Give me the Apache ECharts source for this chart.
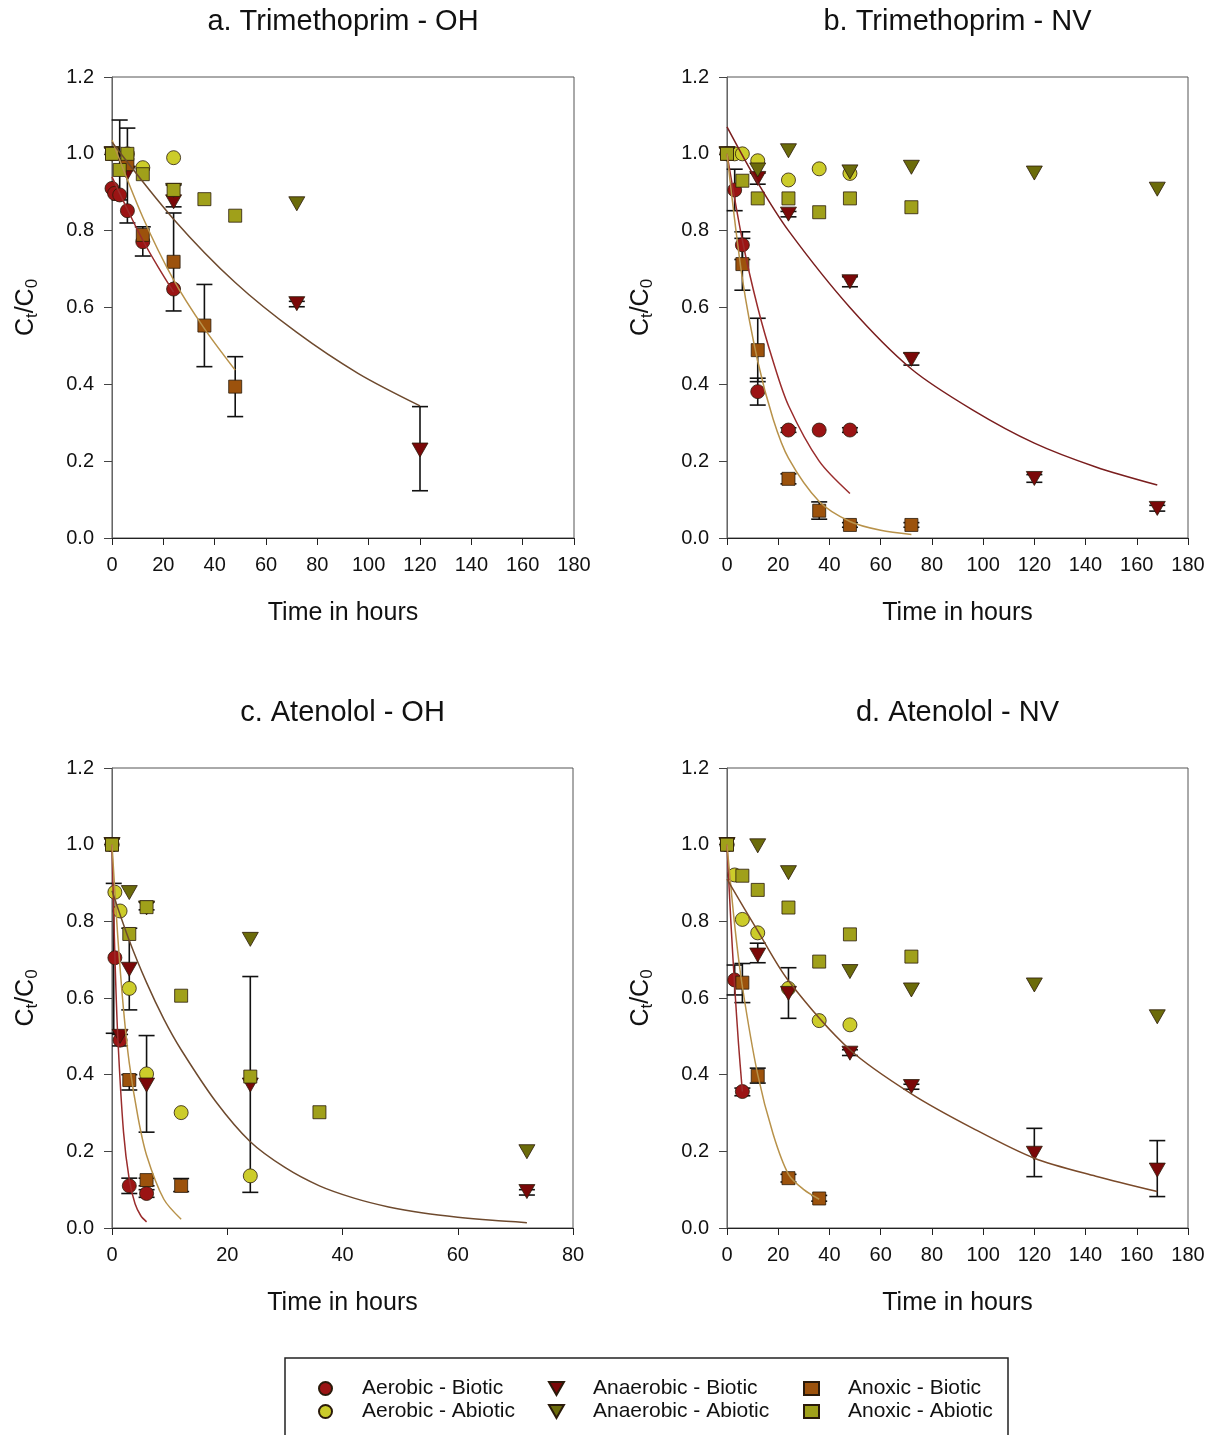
<!DOCTYPE html>
<html><head><meta charset="utf-8">
<script src="https://cdn.jsdelivr.net/npm/echarts@6/dist/echarts.min.js"></script>
<style>html,body{margin:0;padding:0;background:#fff}#c{width:1215px;height:1435px}</style>
</head><body><div id="c"></div>
<script>
// ---------- data ----------
const titles = ['a. Trimethoprim - OH','b. Trimethoprim - NV','c. Atenolol - OH','d. Atenolol - NV'];
const xMaxes = [180,180,80,180];
const yTicks = ['0.0','0.2','0.4','0.6','0.8','1.0','1.2'];
const seriesNames = ['Aerobic - Biotic','Aerobic - Abiotic','Anaerobic - Biotic','Anaerobic - Abiotic','Anoxic - Biotic','Anoxic - Abiotic'];

// panel a
const aAerB = [[0,0.91],[1,0.897],[3,0.893],[6,0.852],[12,0.771],[24,0.648]];
const aAerA = [[0,1.0],[6,1.0],[12,0.964],[24,0.99]];
const aAnaB = [[0,1.0],[6,0.95],[24,0.875],[72,0.61],[120,0.229]];
const aAnaA = [[0,1.0],[24,0.905],[72,0.87]];
const aAnoB = [[0,1.0],[6,0.973],[12,0.789],[24,0.719],[36,0.553],[48,0.394]];
const aAnoA = [[0,1.0],[3,0.958],[6,1.0],[12,0.947],[24,0.906],[36,0.882],[48,0.839]];
const aErr = [[3,0.88,1.088],[6,0.82,1.067],[12,0.734,0.81],[24,0.591,0.846],[24,0.862,0.919],[36,0.446,0.66],[48,0.316,0.472],[72,0.602,0.616],[120,0.123,0.342]];
const aFitAer = [[0,0.94],[6,0.855],[12,0.775],[18,0.705],[24,0.64]];
const aFitAno = [[0,1.036],[12,0.835],[24,0.672],[36,0.545],[48,0.437]];
const aFitAna = [[0,1.03],[24,0.83],[48,0.665],[72,0.535],[96,0.428],[120,0.344]];

// panel b
const bAerB = [[0,1.0],[3,0.906],[6,0.763],[12,0.381],[24,0.281],[36,0.281],[48,0.281]];
const bAerA = [[0,1.0],[3,1.0],[6,1.0],[12,0.982],[24,0.932],[36,0.961],[48,0.949]];
const bAnaB = [[0,1.0],[12,0.936],[24,0.843],[48,0.667],[72,0.465],[120,0.155],[168,0.077]];
const bAnaA = [[0,1.0],[12,0.958],[24,1.008],[48,0.953],[72,0.965],[120,0.95],[168,0.908]];
const bAnoB = [[0,1.0],[6,0.713],[12,0.489],[24,0.154],[36,0.071],[48,0.034],[72,0.034]];
const bAnoA = [[0,1.0],[6,0.93],[12,0.884],[24,0.884],[36,0.848],[48,0.884],[72,0.861]];
const bErr = [[3,0.852,0.96],[6,0.725,0.797],[6,0.645,0.78],[12,0.407,0.572],[12,0.346,0.416],[12,0.921,0.95],[24,0.836,0.85],[48,0.654,0.68],[24,0.141,0.167],[36,0.049,0.094],[48,0.028,0.04],[72,0.028,0.04],[72,0.45,0.481],[120,0.145,0.165],[168,0.07,0.085],[24,0.275,0.287],[48,0.275,0.287]];
const bFitAer = [[0,1.0],[6,0.775],[12,0.6],[18,0.46],[24,0.345],[36,0.2],[48,0.116]];
const bFitAno = [[0,1.0],[6,0.675],[12,0.46],[18,0.31],[24,0.208],[36,0.095],[48,0.043],[60,0.02],[72,0.009]];
const bFitAna = [[0,1.07],[12,0.925],[24,0.8],[48,0.6],[72,0.44],[96,0.333],[120,0.247],[144,0.185],[168,0.138]];

// panel c
const cAerB = [[0,1.0],[0.5,0.705],[1.4,0.49],[3,0.11],[6,0.09]];
const cAerA = [[0,1.0],[0.5,0.876],[1.4,0.827],[3,0.625],[6,0.402],[12,0.301],[24,0.136]];
const cAnaB = [[0,1.0],[1.4,0.5],[3,0.675],[6,0.373],[24,0.373],[72,0.095]];
const cAnaA = [[0,1.0],[3,0.875],[6,0.835],[24,0.753],[72,0.199]];
const cAnoB = [[0,1.0],[3,0.386],[6,0.125],[12,0.11]];
const cAnoA = [[0,1.0],[3,0.767],[6,0.837],[12,0.606],[24,0.395],[36,0.302]];
const cErr = [[0.3,0.508,0.899],[1.4,0.475,0.505],[3,0.569,0.782],[3,0.36,0.4],[3,0.09,0.13],[6,0.25,0.502],[6,0.11,0.13],[6,0.08,0.1],[6,0.83,0.85],[12,0.095,0.129],[24,0.093,0.656],[72,0.086,0.1]];
const cFitAer = [[0,1.0],[0.5,0.71],[1,0.5],[2,0.25],[3,0.126],[4,0.063],[5,0.032],[6,0.016]];
const cFitAno = [[0,1.0],[1,0.76],[2,0.57],[3,0.43],[4.5,0.29],[6,0.19],[9,0.075],[12,0.023]];
const cFitAna = [[0,0.88],[3,0.75],[6,0.64],[9,0.545],[12,0.465],[18,0.33],[24,0.225],[30,0.158],[36,0.11],[42,0.078],[48,0.055],[54,0.039],[60,0.028],[66,0.02],[72,0.014]];

// panel d
const dAerB = [[0,1.0],[3,0.647],[6,0.356]];
const dAerA = [[0,1.0],[3,0.921],[6,0.805],[12,0.77],[24,0.625],[36,0.541],[48,0.53]];
const dAnaB = [[0,1.0],[12,0.712],[24,0.612],[48,0.456],[72,0.369],[120,0.195],[168,0.151]];
const dAnaA = [[0,1.0],[12,0.997],[24,0.927],[48,0.669],[72,0.621],[120,0.634],[168,0.551]];
const dAnoB = [[0,1.0],[6,0.64],[12,0.397],[24,0.13],[36,0.077]];
const dAnoA = [[0,1.0],[6,0.919],[12,0.882],[24,0.836],[36,0.695],[48,0.766],[72,0.708]];
const dErr = [[3,0.608,0.686],[6,0.588,0.69],[6,0.345,0.365],[12,0.692,0.743],[12,0.378,0.417],[24,0.547,0.679],[24,0.12,0.14],[36,0.07,0.085],[48,0.45,0.465],[72,0.362,0.375],[120,0.134,0.26],[168,0.082,0.228]];
const dFitAer = [[0,1.0],[1.5,0.8],[3,0.63],[4.5,0.48],[6,0.356]];
const dFitAno = [[0,1.0],[3,0.79],[6,0.63],[12,0.4],[18,0.245],[24,0.14],[30,0.1],[36,0.075]];
const dFitAna = [[0,0.91],[12,0.775],[24,0.645],[48,0.465],[72,0.35],[96,0.26],[120,0.182],[144,0.135],[168,0.095]];

// ---------- styling ----------
const FONT = 'Liberation Sans, Arial, sans-serif';
const markerColors = ['#9b1414','#cccc2a','#7a0808','#6b6b0a','#9c520c','#a0a01a'];
const TRI = 'path://M0,0L10,0L5,8.7Z';
const markerSymbols = ['circle','circle',TRI,TRI,'rect','rect'];
const markerSizes = [14,14,[16,14],[16,14],13,13];
const fitAerColor = '#9a2c2c', fitAnoColor = '#b8924a';
const fitAnaColors = ['#6e4a2e','#7a1e1e','#6e4a2e','#7a4a2a'];

const grids = [
  {left:112, top:77, width:462, height:461},
  {left:727, top:77, width:461, height:461},
  {left:112, top:768, width:461, height:460},
  {left:727, top:768, width:461, height:460}
];
const titleTops = [2, 2, 693, 693];

const panels = [
  {pts:[aAerB,aAerA,aAnaB,aAnaA,aAnoB,aAnoA], err:aErr, fits:[aFitAer,aFitAno,aFitAna]},
  {pts:[bAerB,bAerA,bAnaB,bAnaA,bAnoB,bAnoA], err:bErr, fits:[bFitAer,bFitAno,bFitAna]},
  {pts:[cAerB,cAerA,cAnaB,cAnaA,cAnoB,cAnoA], err:cErr, fits:[cFitAer,cFitAno,cFitAna]},
  {pts:[dAerB,dAerA,dAnaB,dAnaA,dAnoB,dAnoA], err:dErr, fits:[dFitAer,dFitAno,dFitAna]}
];

function errRender(params, api){
  const x = api.value(0), lo = api.value(1), hi = api.value(2);
  const p1 = api.coord([x, hi]), p2 = api.coord([x, lo]);
  const w = 8;
  const st = {stroke:'#111', lineWidth:1.6};
  return {type:'group', children:[
    {type:'line', shape:{x1:p1[0],y1:p1[1],x2:p2[0],y2:p2[1]}, style:st},
    {type:'line', shape:{x1:p1[0]-w,y1:p1[1],x2:p1[0]+w,y2:p1[1]}, style:st},
    {type:'line', shape:{x1:p2[0]-w,y1:p2[1],x2:p2[0]+w,y2:p2[1]}, style:st}
  ]};
}

const option = {
  animation:false,
  backgroundColor:'#fff',
  textStyle:{fontFamily:FONT},
  title: titles.map((t,i)=>({
    text:t, left: grids[i].left + grids[i].width/2 - 5, top:titleTops[i], textAlign:'center',
    textStyle:{fontFamily:FONT, fontSize:29, fontWeight:'normal', color:'#111'}
  })),
  grid: grids.map(g=>Object.assign({show:true, borderColor:'#555', borderWidth:1, containLabel:false}, g)),
  xAxis: grids.map((g,i)=>({
    type:'value', gridIndex:i, min:0, max:xMaxes[i], interval:20,
    name:'Time in hours', nameLocation:'middle', nameGap:63,
    nameTextStyle:{fontFamily:FONT, fontSize:25, color:'#111'},
    axisLine:{show:true, lineStyle:{color:'#222', width:1}},
    axisTick:{show:true, inside:false, length:7, lineStyle:{color:'#222'}},
    axisLabel:{fontFamily:FONT, fontSize:20, color:'#111', margin:17},
    splitLine:{show:false}
  })),
  yAxis: grids.map((g,i)=>({
    type:'value', gridIndex:i, min:0, max:1.2, interval:0.2,
    name:'{n|C}{s|t}{n|/C}{s|0}', nameLocation:'middle', nameGap:71, nameRotate:90,
    nameTextStyle:{fontFamily:FONT, fontSize:25, color:'#111',
      rich:{n:{fontFamily:FONT, fontSize:25, color:'#111'}, s:{fontFamily:FONT, fontSize:17, color:'#111', padding:[13,0,0,0]}}},
    axisLine:{show:true, lineStyle:{color:'#666', width:1}},
    axisTick:{show:true, inside:false, length:8, lineStyle:{color:'#444'}},
    axisLabel:{fontFamily:FONT, fontSize:20, color:'#111', margin:18,
      formatter:(v)=>yTicks[Math.round(v/0.2)]},
    splitLine:{show:false}
  })),
  legend: [
    {names:[seriesNames[0],seriesNames[1]], left:313},
    {names:[seriesNames[2],seriesNames[3]], left:543},
    {names:[seriesNames[4],seriesNames[5]], left:798}
  ].map(l=>({
    data:l.names, orient:'vertical', left:l.left, top:1373, itemWidth:15, itemHeight:13, itemGap:2,
    selectedMode:false,
    textStyle:{fontFamily:FONT, fontSize:21, color:'#111', padding:[0,0,0,24]}
  })),
  graphic:[{type:'rect', shape:{x:285, y:1358, width:723, height:100},
    style:{fill:'none', stroke:'#222', lineWidth:1.5}, z:-1}],
  series: []
};

panels.forEach((p,i)=>{
  option.series.push({type:'custom', name:'err', xAxisIndex:i, yAxisIndex:i, renderItem:errRender,
    encode:{x:0, y:[1,2]}, data:p.err, z:2, silent:true, clip:false});
  p.pts.forEach((d,k)=>{
    option.series.push({type:'scatter', name:seriesNames[k], xAxisIndex:i, yAxisIndex:i, data:d,
      symbol:markerSymbols[k], symbolSize:markerSizes[k], z:3,
      itemStyle:{color:markerColors[k], borderColor:'#2a1a0a', borderWidth:0.8, opacity:1}});
  });
  const fitColors = [fitAerColor, fitAnoColor, fitAnaColors[i]];
  p.fits.forEach((d,k)=>{
    option.series.push({type:'line', name:'fit', xAxisIndex:i, yAxisIndex:i, data:d, smooth:0.3,
      showSymbol:false, symbol:'none', z:4, lineStyle:{color:fitColors[k], width:1.5}, silent:true});
  });
});

const chart = echarts.init(document.getElementById('c'), null, {renderer:'canvas'});
chart.setOption(option);
</script></body></html>
